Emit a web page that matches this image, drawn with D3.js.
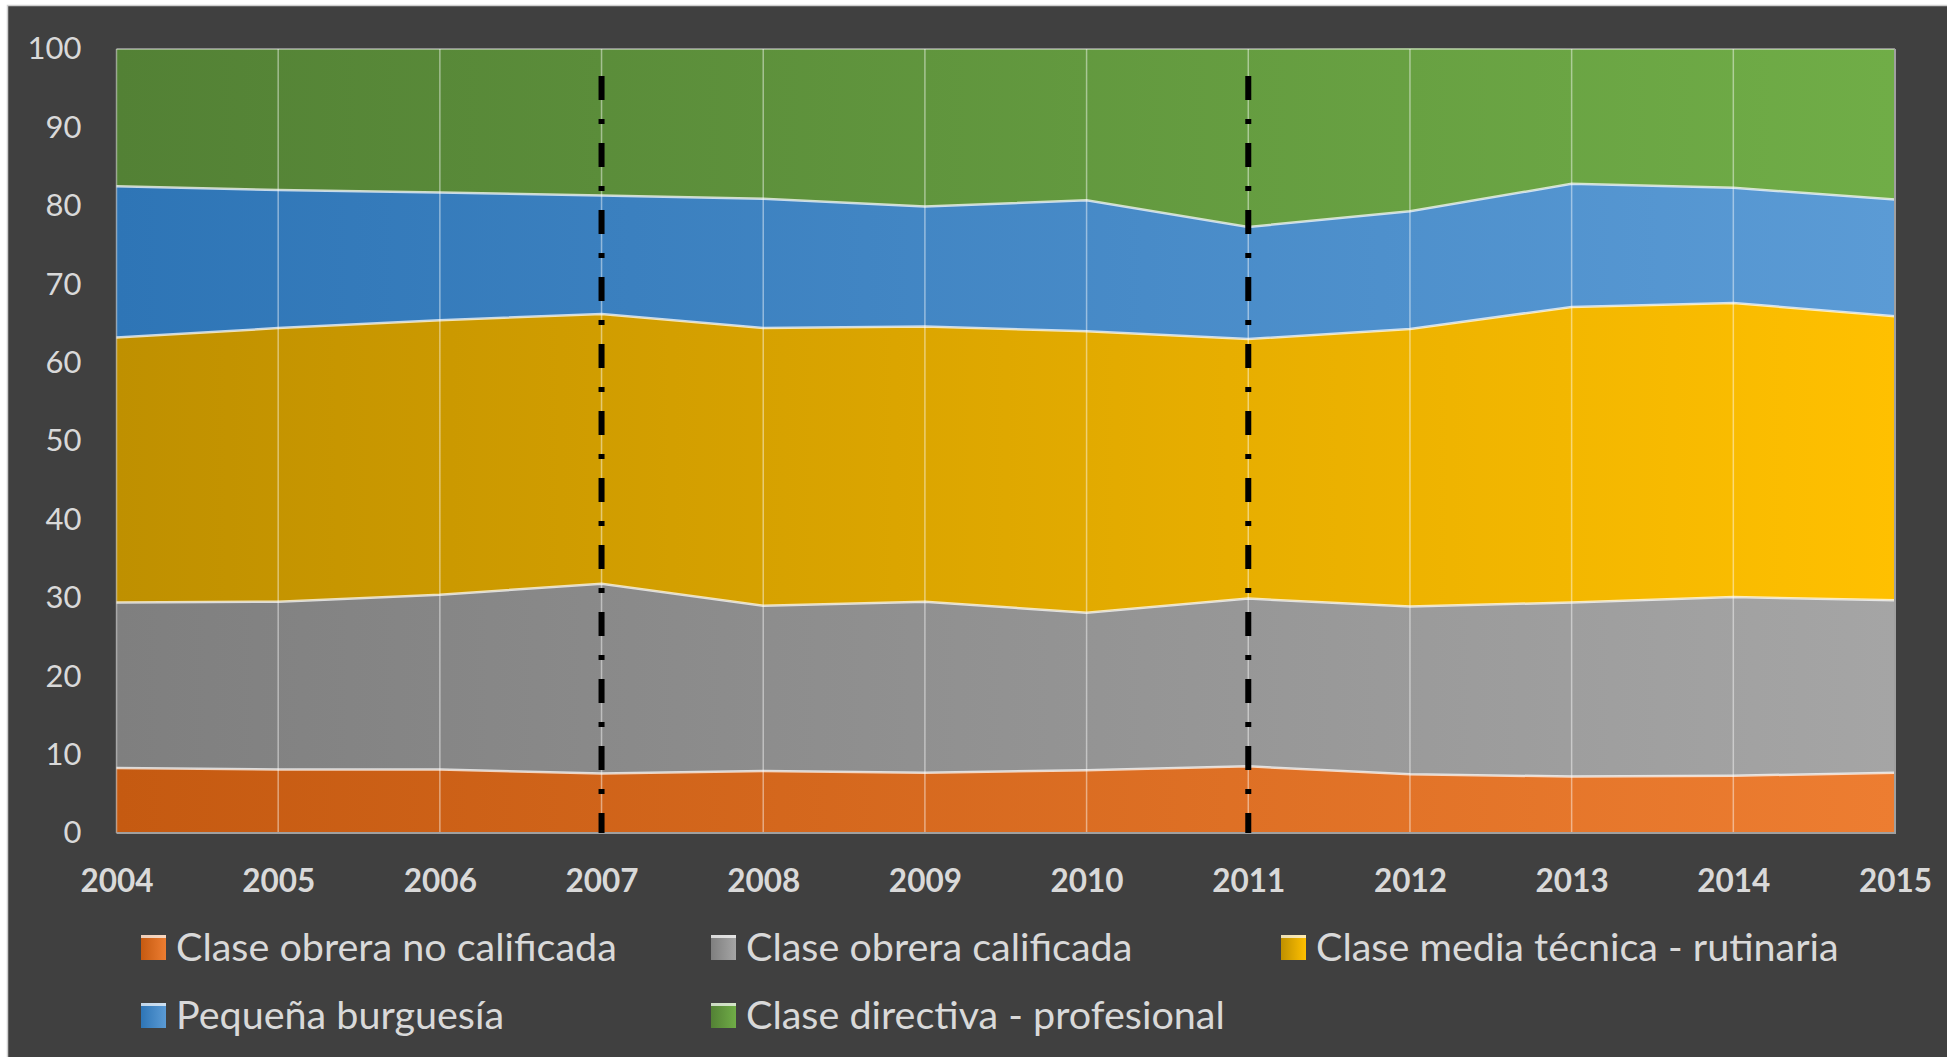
<!DOCTYPE html>
<html>
<head>
<meta charset="utf-8">
<script src="https://cdn.jsdelivr.net/npm/d3@7"></script>
<style>
  html, body { margin: 0; padding: 0; background: #ffffff; }
  svg { display: block; }
</style>
</head>
<body>
<div id="chart"></div>
<script>
// data (percent of employed, stacked to 100)
const years = ["2004", "2005", "2006", "2007", "2008", "2009", "2010", "2011", "2012", "2013", "2014", "2015"];
const seriesNames = [
	"Clase obrera no calificada",
	"Clase obrera calificada",
	"Clase media técnica - rutinaria",
	"Pequeña burguesía",
	"Clase directiva - profesional"
];
const obreraNoCalificada = [8.3, 8.1, 8.1, 7.6, 7.9, 7.7, 8.0, 8.5, 7.5, 7.2, 7.3, 7.7];
const obreraCalificada   = [21.1, 21.4, 22.3, 24.2, 21.1, 21.8, 20.1, 21.4, 21.4, 22.2, 22.8, 22.0];
const mediaTecnica       = [33.8, 34.9, 35.0, 34.4, 35.4, 35.1, 35.9, 33.1, 35.4, 37.7, 37.5, 36.2];
const pequenaBurguesia   = [19.3, 17.6, 16.3, 15.1, 16.5, 15.3, 16.7, 14.3, 15.0, 15.7, 14.7, 14.9];
const claseDirectiva     = [17.5, 18.0, 18.3, 18.7, 19.1, 20.1, 19.3, 22.7, 20.8, 17.2, 17.7, 19.2];
const yTicks = [0, 10, 20, 30, 40, 50, 60, 70, 80, 90, 100];
const markedYears = ["2007", "2011"];

// colours: dark at the left, light at the right
const darkColors  = ["#c55a11", "#7f7f7f", "#bf9000", "#2e75b6", "#538135"];
const lightColors = ["#ed7d31", "#a5a5a5", "#ffc000", "#5b9bd5", "#70ad47"];

const W = 1947, H = 1057;
const plotLeft = 116.5, plotRight = 1895, plotTop = 49, plotBottom = 833;
const fontFam = "Lato, 'Open Sans', sans-serif";
const textColor = "#d9d9d9";

const allValues = [obreraNoCalificada, obreraCalificada, mediaTecnica, pequenaBurguesia, claseDirectiva];
const table = years.map((y, i) => {
	const row = { year: y };
	seriesNames.forEach((s, k) => { row[s] = allValues[k][i]; });
	return row;
});

const svg = d3.select("#chart")
	.append("svg")
	.attr("width", W)
	.attr("height", H);

svg.append("rect")
	.attr("x", 7.5).attr("y", 5.5)
	.attr("width", W).attr("height", H)
	.attr("fill", "#404040")
	.attr("stroke", "#cfcfcf")
	.attr("stroke-width", 1.5);

const xScale = d3.scalePoint()
	.domain(years)
	.range([plotLeft, plotRight]);

const yScale = d3.scaleLinear()
	.domain([0, 100])
	.range([plotBottom, plotTop]);

// gradients
const defs = svg.append("defs");
seriesNames.forEach((s, k) => {
	const g = defs.append("linearGradient")
		.attr("id", "grad" + k)
		.attr("gradientUnits", "userSpaceOnUse")
		.attr("x1", plotLeft).attr("x2", plotRight)
		.attr("y1", 0).attr("y2", 0);
	g.append("stop").attr("offset", "0%").attr("stop-color", darkColors[k]);
	g.append("stop").attr("offset", "100%").attr("stop-color", lightColors[k]);

	const lg = defs.append("linearGradient")
		.attr("id", "legGrad" + k)
		.attr("x1", "0%").attr("x2", "100%");
	lg.append("stop").attr("offset", "0%").attr("stop-color", darkColors[k]);
	lg.append("stop").attr("offset", "100%").attr("stop-color", lightColors[k]);
});

const stacked = d3.stack().keys(seriesNames)(table);

const area = d3.area()
	.x(d => xScale(d.data.year))
	.y0(d => yScale(d[0]))
	.y1(d => yScale(d[1]));

svg.append("g")
	.selectAll("path")
	.data(stacked)
	.enter()
	.append("path")
	.attr("d", area)
	.attr("fill", (d, i) => "url(#grad" + i + ")");

// light border on the top of each band
const topLine = d3.line()
	.x(d => xScale(d.data.year))
	.y(d => yScale(d[1]));

svg.append("g")
	.selectAll("path")
	.data(stacked.slice(0, 4))
	.enter()
	.append("path")
	.attr("d", topLine)
	.attr("fill", "none")
	.attr("stroke", "rgba(255,255,255,0.72)")
	.attr("stroke-width", 2.5);

// vertical grid lines
svg.append("g")
	.selectAll("line")
	.data(years)
	.enter()
	.append("line")
	.attr("x1", d => xScale(d)).attr("x2", d => xScale(d))
	.attr("y1", yScale(100)).attr("y2", yScale(0))
	.attr("stroke", "rgba(255,255,255,0.45)")
	.attr("stroke-width", 1.5);

svg.append("line")
	.attr("x1", plotLeft).attr("x2", plotRight)
	.attr("y1", yScale(100)).attr("y2", yScale(100))
	.attr("stroke", "rgba(255,255,255,0.55)")
	.attr("stroke-width", 1.5);

// plot border right + bottom
svg.append("path")
	.attr("d", `M${plotLeft},${yScale(0)}H${plotRight}V${yScale(100)}`)
	.attr("fill", "none")
	.attr("stroke", "#a0a0a0")
	.attr("stroke-width", 2);

// dash-dot markers
svg.append("g")
	.selectAll("line")
	.data(markedYears)
	.enter()
	.append("line")
	.attr("x1", d => xScale(d)).attr("x2", d => xScale(d))
	.attr("y1", 76).attr("y2", yScale(0))
	.attr("stroke", "#000")
	.attr("stroke-width", 6)
	.attr("stroke-dasharray", "24,19,5,19");

// axes
const yAxis = d3.axisLeft(yScale)
	.tickValues(yTicks)
	.tickSize(0)
	.tickPadding(35);

const gy = svg.append("g")
	.attr("transform", `translate(${plotLeft},0)`)
	.call(yAxis);
gy.select(".domain").remove();
gy.selectAll("text")
	.attr("fill", textColor)
	.style("font-family", fontFam)
	.style("font-size", "31px");

const xAxis = d3.axisBottom(xScale)
	.tickSize(0);

const gx = svg.append("g")
	.attr("transform", `translate(0,${plotBottom})`)
	.call(xAxis);
gx.select(".domain").remove();
gx.selectAll("text")
	.attr("y", 48)
	.attr("dy", "0.35em")
	.attr("fill", textColor)
	.style("font-family", fontFam)
	.style("font-weight", "bold")
	.style("font-size", "31.5px");

// legend
const legendX = [141, 711, 1281];
const legendY = [947, 1015];
const legend = svg.append("g")
	.selectAll("g")
	.data(seriesNames)
	.enter()
	.append("g")
	.attr("transform", (d, i) => `translate(${legendX[i % 3]},${legendY[Math.floor(i / 3)]})`);

legend.append("rect")
	.attr("x", 0).attr("y", -12)
	.attr("width", 25).attr("height", 25)
	.attr("fill", (d, i) => "url(#legGrad" + i + ")");
legend.append("rect")
	.attr("x", 0).attr("y", -12)
	.attr("width", 25).attr("height", 3)
	.attr("fill", "rgba(255,255,255,0.7)");

legend.append("text")
	.attr("x", 35)
	.attr("y", 0)
	.attr("dy", "0.35em")
	.attr("fill", textColor)
	.style("font-family", fontFam)
	.style("font-size", "39.5px")
	.text(d => d);
</script>
</body>
</html>
